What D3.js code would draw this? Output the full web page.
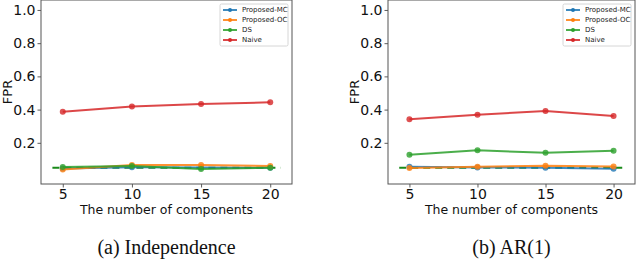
<!DOCTYPE html>
<html>
<head>
<meta charset="utf-8">
<script src="https://cdn.jsdelivr.net/npm/d3@7"></script>
<style>
  body { margin: 0; background: #fff; }
</style>
</head>
<body>
<div id="viz"></div>
<script>
// data
let components = [5, 10, 15, 20]
let seriesNames = ["Proposed-MC", "Proposed-OC", "DS", "Naive"]
let colors = ["#1f77b4", "#ff7f0e", "#2ca02c", "#d62728"]

let indepMC    = [0.045, 0.053, 0.052, 0.050]
let indepOC    = [0.040, 0.066, 0.066, 0.060]
let indepDS    = [0.055, 0.060, 0.043, 0.050]
let indepNaive = [0.387, 0.418, 0.434, 0.444]

let arMC    = [0.056, 0.052, 0.050, 0.044]
let arOC    = [0.048, 0.056, 0.062, 0.058]
let arDS    = [0.128, 0.155, 0.140, 0.152]
let arNaive = [0.342, 0.369, 0.392, 0.361]

let yTicks = [0.2, 0.4, 0.6, 0.8, 1.0]
let alphaLevel = 0.05
let captions = ["(a) Independence", "(b) AR(1)"]

let width = 640
let height = 260

let svg = d3.select('#viz').append('svg').attr("width", width).attr("height", height)

function drawPanel(left, right, series, caption){
    let top = 0, bottom = 184
    let x = d3.scaleLinear().domain([3.425, 21.575]).range([left, right])
    let y = d3.scaleLinear().domain([-0.048, 1.06]).range([bottom, top])

    let g = svg.append("g")

    // axes
    let xAxis = d3.axisBottom(x).tickValues(components).tickSize(3.5).tickPadding(2)
    let yAxis = d3.axisLeft(y).tickValues(yTicks).tickFormat(d3.format(".1f")).tickSize(3.5).tickPadding(2)

    let gx = g.append("g").attr("transform", `translate(0,${bottom})`).call(xAxis)
    let gy = g.append("g").attr("transform", `translate(${left},0)`).call(yAxis)
    for(let a of [gx, gy]){
        a.select(".domain").remove()
        a.selectAll("line").attr("stroke", "#333").attr("stroke-width", 0.8)
        a.selectAll("text").attr("font-family", "DejaVu Sans").attr("font-size", 14).attr("fill", "#111")
    }

    // frame
    g.append("rect").attr("x", left).attr("y", top).attr("width", right-left).attr("height", bottom-top)
        .attr("fill", "none").attr("stroke", "#555").attr("stroke-width", 1)

    // nominal level
    g.append("line").attr("x1", x(4.25)).attr("x2", x(20.75)).attr("y1", y(alphaLevel)).attr("y2", y(alphaLevel))
        .attr("stroke", "#1a8a1a").attr("stroke-width", 2).attr("stroke-dasharray", "7,5")

    let line = d3.line().x((d,i) => x(components[i])).y(d => y(d))
    for(let s=0; s<series.length; s++){
        g.append("path").datum(series[s]).attr("d", line).attr("fill", "none")
            .attr("stroke", colors[s]).attr("stroke-width", 2).attr("stroke-opacity", 0.85)
        g.selectAll(null).data(series[s]).enter().append("circle")
            .attr("cx", (d,i) => x(components[i])).attr("cy", d => y(d)).attr("r", 3)
            .attr("fill", colors[s]).attr("fill-opacity", 0.8)
    }

    // legend
    let lx = right - 72, ly = 4
    g.append("rect").attr("x", lx).attr("y", ly).attr("width", 68).attr("height", 42).attr("rx", 1.5)
        .attr("fill", "#fff").attr("fill-opacity", 0.8).attr("stroke", "#ccc").attr("stroke-width", 0.8)
    for(let s=0; s<seriesNames.length; s++){
        let yy = ly + 6 + s*10
        g.append("line").attr("x1", lx+3).attr("x2", lx+17).attr("y1", yy).attr("y2", yy)
            .attr("stroke", colors[s]).attr("stroke-width", 2).attr("stroke-opacity", 0.85)
        g.append("circle").attr("cx", lx+10).attr("cy", yy).attr("r", 2).attr("fill", colors[s])
        g.append("text").text(seriesNames[s]).attr("x", lx+22).attr("y", yy).attr("dominant-baseline", "middle")
            .attr("font-family", "DejaVu Sans").attr("font-size", 7).attr("fill", "#222")
    }

    // labels
    g.append("text").text("The number of components").attr("text-anchor", "middle")
        .attr("x", (x(5)+x(20))/2).attr("y", 214).attr("font-family", "DejaVu Sans").attr("font-size", 12.5).attr("fill", "#111")
    g.append("text").text("FPR").attr("text-anchor", "middle")
        .attr("transform", `translate(${left-29.5},${(top+bottom)/2}) rotate(-90)`)
        .attr("font-family", "DejaVu Sans").attr("font-size", 13).attr("fill", "#111")
    g.append("text").text(caption).attr("text-anchor", "middle")
        .attr("x", (x(5)+x(20))/2).attr("y", 254).attr("font-family", "Liberation Serif").attr("font-size", 20).attr("fill", "#111")
}

drawPanel(41, 292, [indepMC, indepOC, indepDS, indepNaive], captions[0])
drawPanel(388, 635, [arMC, arOC, arDS, arNaive], captions[1])
</script>
</body>
</html>
